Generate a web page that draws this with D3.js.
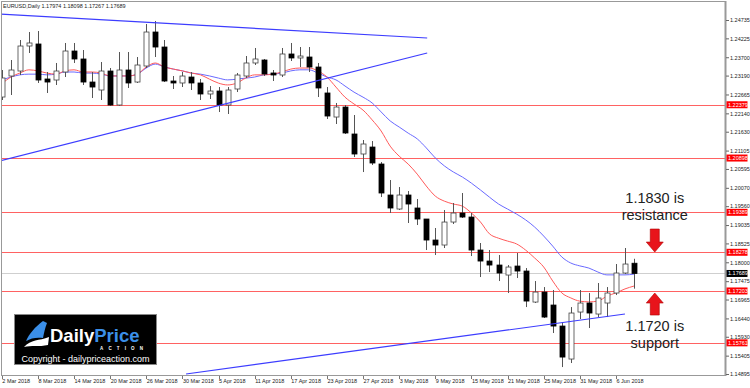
<!DOCTYPE html>
<html>
<head>
<meta charset="utf-8">
<script src="https://cdn.jsdelivr.net/npm/d3@7"></script>
<style>
  body { margin: 0; background: #fff; }
  svg { display: block; }
</style>
</head>
<body>
<svg id="chart" width="750" height="388"></svg>
<script>
/* trading days on the chart */
const dates = [
  "2018-03-02","2018-03-05","2018-03-06","2018-03-07","2018-03-08","2018-03-09","2018-03-12","2018-03-13","2018-03-14","2018-03-15",
  "2018-03-16","2018-03-19","2018-03-20","2018-03-21","2018-03-22","2018-03-23","2018-03-26","2018-03-27","2018-03-28","2018-03-29",
  "2018-03-30","2018-04-02","2018-04-03","2018-04-04","2018-04-05","2018-04-06","2018-04-09","2018-04-10","2018-04-11","2018-04-12",
  "2018-04-13","2018-04-16","2018-04-17","2018-04-18","2018-04-19","2018-04-20","2018-04-23","2018-04-24","2018-04-25","2018-04-26",
  "2018-04-27","2018-04-30","2018-05-01","2018-05-02","2018-05-03","2018-05-04","2018-05-07","2018-05-08","2018-05-09","2018-05-10",
  "2018-05-11","2018-05-14","2018-05-15","2018-05-16","2018-05-17","2018-05-18","2018-05-21","2018-05-22","2018-05-23","2018-05-24",
  "2018-05-25","2018-05-28","2018-05-29","2018-05-30","2018-05-31","2018-06-01","2018-06-04","2018-06-05","2018-06-06","2018-06-07",
  "2018-06-08"
];

const open = [
  1.22594,1.23178,1.23317,1.24012,1.24068,1.23095,1.23067,1.23289,1.23873,1.23651,
  1.23011,1.22789,1.23317,1.22372,1.23345,1.23011,1.23456,1.24401,1.23984,1.23039,
  1.22984,1.23150,1.22984,1.22678,1.22761,1.22372,1.22817,1.23178,1.23540,1.23623,
  1.23262,1.23206,1.23790,1.23679,1.23706,1.23428,1.22706,1.22038,1.22316,1.21566,
  1.21010,1.21204,1.20732,1.19870,1.19481,1.19870,1.19509,1.19203,1.18619,1.18480,
  1.19119,1.19370,1.19258,1.18341,1.18035,1.17924,1.17646,1.17896,1.17757,1.16895,
  1.17173,1.16812,1.16228,1.15311,1.16617,1.16868,1.16562,1.16868,1.17146,1.17702,
  1.17974
];
const high = [
  1.23345,1.23623,1.24179,1.24401,1.24429,1.23289,1.23540,1.24096,1.24096,1.23901,
  1.23289,1.23567,1.23401,1.23845,1.23845,1.23706,1.24624,1.24707,1.24179,1.23178,
  1.23289,1.23289,1.23095,1.22900,1.22872,1.22872,1.23262,1.23734,1.23957,1.23651,
  1.23345,1.23957,1.24096,1.23984,1.23984,1.23540,1.22872,1.22428,1.22372,1.22094,
  1.21399,1.21371,1.20787,1.20287,1.20092,1.19981,1.19759,1.19203,1.18953,1.19453,
  1.19648,1.19926,1.19370,1.18536,1.18341,1.18202,1.17924,1.18258,1.17841,1.17479,
  1.17312,1.17229,1.16339,1.16756,1.17229,1.17146,1.17424,1.17312,1.17952,1.18397,
  1.18098
];
const low = [
  1.22511,1.22650,1.23206,1.23818,1.22984,1.22706,1.22928,1.23150,1.23540,1.22928,
  1.22567,1.22511,1.22350,1.22350,1.22845,1.22984,1.23401,1.23706,1.23011,1.22817,
  1.22872,1.22789,1.22511,1.22539,1.22177,1.22122,1.22733,1.23123,1.23484,1.23178,
  1.23039,1.23150,1.23595,1.23428,1.23289,1.22594,1.21983,1.21844,1.21566,1.20926,
  1.20509,1.20704,1.19814,1.19370,1.19453,1.19092,1.19036,1.18341,1.18202,1.18397,
  1.19064,1.19231,1.18174,1.17590,1.17729,1.17479,1.17146,1.17563,1.16756,1.16868,
  1.16451,1.16034,1.15088,1.15200,1.16423,1.16173,1.16478,1.16478,1.17090,1.17674,
  1.17267
];
const close = [
  1.23123,1.23345,1.24012,1.24096,1.23067,1.23011,1.23317,1.23873,1.23651,1.23011,
  1.22872,1.23317,1.22372,1.23345,1.22984,1.23484,1.24401,1.23984,1.23039,1.22984,
  1.23178,1.22984,1.22678,1.22761,1.22372,1.22789,1.23206,1.23540,1.23651,1.23234,
  1.23206,1.23790,1.23679,1.23734,1.23428,1.22845,1.22066,1.22316,1.21594,1.21010,
  1.21288,1.20760,1.19926,1.19509,1.19870,1.19620,1.19203,1.18619,1.18480,1.19119,
  1.19370,1.19258,1.18341,1.18035,1.17924,1.17702,1.17868,1.17757,1.16923,1.17173,
  1.16478,1.16228,1.15366,1.16590,1.16868,1.16590,1.17007,1.17146,1.17702,1.17952,
  1.17689
];

/* moving averages (red = fast, blue = slow) */
const maFast = [
  1.2296,1.2315,1.2326,1.2335,1.2332,1.2326,1.2323,1.2332,1.2335,1.2329,
  1.2329,1.2326,1.2318,1.2318,1.2318,1.2323,1.2343,1.2354,1.2343,1.2337,
  1.2332,1.2326,1.2321,1.2309,1.2298,1.2293,1.2298,1.2312,1.2321,1.2321,
  1.2323,1.2329,1.2337,1.2340,1.2340,1.2332,1.2315,1.2287,1.2259,1.2240,
  1.2223,1.2196,1.2165,1.2123,1.2095,1.2073,1.2045,1.2012,1.1984,1.1970,
  1.1962,1.1956,1.1937,1.1912,1.1879,1.1867,1.1859,1.1851,1.1834,1.1812,
  1.1787,1.1748,1.1715,1.1701,1.1692,1.1690,1.1692,1.1706,1.1715,1.1726,
  1.1734
];
const maSlow = [
  1.2307,1.2315,1.2321,1.2323,1.2323,1.2321,1.2323,1.2329,1.2329,1.2326,
  1.2326,1.2323,1.2318,1.2318,1.2318,1.2323,1.2340,1.2351,1.2343,1.2337,
  1.2332,1.2326,1.2323,1.2318,1.2312,1.2307,1.2309,1.2312,1.2315,1.2321,
  1.2323,1.2326,1.2332,1.2335,1.2335,1.2326,1.2315,1.2307,1.2290,1.2273,
  1.2259,1.2243,1.2218,1.2193,1.2176,1.2159,1.2143,1.2118,1.2090,1.2068,
  1.2051,1.2037,1.2020,1.2001,1.1981,1.1962,1.1948,1.1934,1.1918,1.1898,
  1.1873,1.1845,1.1815,1.1798,1.1790,1.1784,1.1773,1.1765,1.1765,1.1765,
  1.1767
];

const yTicks = [1.24735,1.24225,1.23700,1.23190,1.22665,1.22140,1.21630,1.21105,1.20595,1.20070,
                1.19560,1.19035,1.18525,1.18000,1.17475,1.16965,1.16440,1.15930,1.15405,1.14895];
const levels = [1.22379, 1.20898, 1.19389, 1.18278, 1.17203, 1.15761];
const lastPrice = 1.17689;

/* trend lines: [bar index, price] end points */
const trendLines = [
  [[-0.3, 1.24902], [47.1, 1.24235]],
  [[-0.3, 1.20816], [47.1, 1.23818]],
  [[20.4, 1.14895], [69.0, 1.16563]]
];

const svg = d3.select("#chart");
const W = 750, H = 388;
const plotRight = 725, plotBottom = 375;
const small = "Liberation Sans, Arial, sans-serif";

const x = d3.scaleLinear().domain([0, dates.length - 1]).range([1.8, 634]);
const y = d3.scaleLinear().domain([1.14895, 1.24735]).range([374, 20]);

const parse = d3.timeParse("%Y-%m-%d");
const fmt = d3.timeFormat("%-d %b %Y");

svg.append("rect").attr("width", W).attr("height", H).attr("fill", "#fff");

svg.append("defs").append("clipPath").attr("id", "plotClip")
  .append("rect").attr("x", 1).attr("y", 1).attr("width", plotRight - 1).attr("height", plotBottom - 1);

const plot = svg.append("g").attr("clip-path", "url(#plotClip)");

/* horizontal levels */
plot.selectAll(".level").data(levels).enter().append("line")
  .attr("class", "level")
  .attr("x1", 0).attr("x2", plotRight)
  .attr("y1", d => Math.round(y(d)) + 0.5).attr("y2", d => Math.round(y(d)) + 0.5)
  .attr("stroke", "#ff6262").attr("stroke-width", 1);

plot.append("line")
  .attr("x1", 0).attr("x2", plotRight)
  .attr("y1", Math.round(y(lastPrice)) + 0.5).attr("y2", Math.round(y(lastPrice)) + 0.5)
  .attr("stroke", "#cfcfcf").attr("stroke-width", 1);

/* moving averages */
const line = d3.line().x((d, i) => x(i)).y(d => y(d)).curve(d3.curveMonotoneX);
plot.append("path").datum(maSlow).attr("d", line)
  .attr("fill", "none").attr("stroke", "#6a6aff").attr("stroke-width", 1);
plot.append("path").datum(maFast).attr("d", line)
  .attr("fill", "none").attr("stroke", "#ff5a5a").attr("stroke-width", 1);

/* candles */
const bars = dates.map((d, i) => ({ i, o: open[i], h: high[i], l: low[i], c: close[i] }));
const bodyW = 5;
const candle = plot.selectAll(".candle").data(bars).enter().append("g").attr("class", "candle");
candle.append("line")
  .attr("x1", d => Math.round(x(d.i)) + 0.5).attr("x2", d => Math.round(x(d.i)) + 0.5)
  .attr("y1", d => y(d.h)).attr("y2", d => y(d.l))
  .attr("stroke", "#555").attr("stroke-width", 1);
candle.append("rect")
  .attr("x", d => Math.round(x(d.i)) + 0.5 - bodyW / 2)
  .attr("y", d => y(Math.max(d.o, d.c)))
  .attr("width", bodyW)
  .attr("height", d => Math.max(1, Math.abs(y(d.o) - y(d.c))))
  .attr("fill", d => d.c >= d.o ? "#fff" : "#000")
  .attr("stroke", d => d.c >= d.o ? "#444" : "#000")
  .attr("stroke-width", 0.8);

/* trend lines */
plot.selectAll(".trend").data(trendLines).enter().append("line")
  .attr("class", "trend")
  .attr("x1", d => x(d[0][0])).attr("y1", d => y(d[0][1]))
  .attr("x2", d => x(d[1][0])).attr("y2", d => y(d[1][1]))
  .attr("stroke", "#3d3dff").attr("stroke-width", 1.2);

/* frame */
svg.append("line").attr("x1", 1.5).attr("x2", 1.5).attr("y1", 1).attr("y2", plotBottom).attr("stroke", "#999");
svg.append("line").attr("x1", 1).attr("x2", plotRight).attr("y1", 1.5).attr("y2", 1.5).attr("stroke", "#999");
svg.append("line").attr("x1", 1).attr("x2", plotRight).attr("y1", plotBottom + 0.5).attr("y2", plotBottom + 0.5).attr("stroke", "#999");
svg.append("line").attr("x1", plotRight + 0.5).attr("x2", plotRight + 0.5).attr("y1", 1).attr("y2", plotBottom + 1)
  .attr("stroke", "#999").attr("stroke-width", 2);

/* right price axis */
const yAxis = d3.axisRight(y).tickValues(yTicks).tickSize(3).tickPadding(1)
  .tickFormat(d3.format(".5f"));
svg.append("g")
  .attr("class", "yAxis")
  .attr("transform", "translate(" + (plotRight + 1) + ",0)")
  .call(yAxis)
  .call(g => g.select(".domain").remove())
  .call(g => g.selectAll("line").attr("stroke", "#666"))
  .call(g => g.selectAll("text").attr("font-family", small).attr("font-size", "5.5px").attr("fill", "#222"));

/* price tags */
const tags = levels.map(v => ({ v, bg: "#ff0000" })).concat([{ v: lastPrice, bg: "#000" }]);
const tag = svg.selectAll(".tag").data(tags).enter().append("g").attr("class", "tag");
tag.append("rect")
  .attr("x", plotRight + 1.5).attr("y", d => y(d.v) - 3.5)
  .attr("width", 21).attr("height", 7).attr("fill", d => d.bg);
tag.append("text")
  .attr("x", plotRight + 3).attr("y", d => y(d.v) + 2)
  .attr("font-family", small).attr("font-size", "5.5px").attr("fill", "#fff")
  .text(d => d3.format(".5f")(d.v));

/* date axis */
const dateTicks = d3.range(0, dates.length, 4);
const xg = svg.append("g").attr("class", "xAxis");
xg.selectAll("line").data(dateTicks).enter().append("line")
  .attr("x1", d => Math.round(x(d)) + 0.5).attr("x2", d => Math.round(x(d)) + 0.5)
  .attr("y1", plotBottom + 1).attr("y2", plotBottom + 4)
  .attr("stroke", "#777");
xg.selectAll("text").data(dateTicks).enter().append("text")
  .attr("x", d => x(d) + 0.5).attr("y", 383)
  .attr("font-family", small).attr("font-size", "5.5px").attr("fill", "#222")
  .text(d => fmt(parse(dates[d])));

/* header */
svg.append("text")
  .attr("x", 3).attr("y", 8)
  .attr("font-family", small).attr("font-size", "5.5px").attr("fill", "#222")
  .text("EURUSD,Daily  " + [open[70], high[70], low[70], close[70]].map(d3.format(".5f")).join(" "));

/* annotations */
const noteX = x(72.3);
function arrow(xc, yTop, yBot, dir) {
  const hw = 4.5, head = 8.5, hh = 10;
  let p;
  if (dir === "down") {
    p = [[xc - hw, yTop], [xc + hw, yTop], [xc + hw, yBot - hh], [xc + head, yBot - hh], [xc, yBot],
         [xc - head, yBot - hh], [xc - hw, yBot - hh]];
  } else {
    p = [[xc - hw, yBot], [xc + hw, yBot], [xc + hw, yTop + hh], [xc + head, yTop + hh], [xc, yTop],
         [xc - head, yTop + hh], [xc - hw, yTop + hh]];
  }
  svg.append("path").attr("d", "M" + p.join("L") + "Z")
    .attr("fill", "#e8141b").attr("stroke", "#b00000").attr("stroke-width", 0.6);
}
arrow(noteX, y(1.18925), y(1.18285), "down");
arrow(noteX, y(1.17146), y(1.16534), "up");

const notes = [
  { price: 1.19640, text: "1.1830 is" },
  { price: 1.19170, text: "resistance" },
  { price: 1.16090, text: "1.1720 is" },
  { price: 1.15620, text: "support" }
];
svg.selectAll(".note").data(notes).enter().append("text")
  .attr("class", "note")
  .attr("x", noteX).attr("y", d => y(d.price))
  .attr("text-anchor", "middle")
  .attr("font-family", small).attr("font-size", "14.5px").attr("fill", "#222")
  .text(d => d.text);

/* logo */
const logo = svg.append("g").attr("class", "logo");
logo.append("rect").attr("x", 14.5).attr("y", 314.5).attr("width", 142).attr("height", 50)
  .attr("fill", "#000").attr("stroke", "#888").attr("stroke-width", 1);
logo.append("path")
  .attr("d", "M26,341 C29,334 35,327 43,321 L47,323 C45,328 44,333 43,338 C37,337 31,338 26,341 Z")
  .attr("fill", "#3b8fe8");
logo.append("path")
  .attr("d", "M24,347 C31,339 39,341 49,337 L48,345 C39,347 31,345 24,347 Z")
  .attr("fill", "#fff");
const brand = logo.append("text").attr("x", 50).attr("y", 341.5)
  .attr("font-family", small).attr("font-weight", "bold").attr("font-size", "18.5px");
brand.append("tspan").attr("fill", "#fff").text("Daily");
brand.append("tspan").attr("fill", "#3b8fe8").text("Price");
logo.append("text").attr("x", 100).attr("y", 349.5)
  .attr("font-family", small).attr("font-weight", "bold").attr("font-size", "4.5px").attr("fill", "#fff")
  .attr("textLength", 43).attr("lengthAdjust", "spacing")
  .text("ACTION");
logo.append("text").attr("x", 85.5).attr("y", 361.5)
  .attr("text-anchor", "middle")
  .attr("font-family", small).attr("font-size", "9px").attr("fill", "#fff")
  .text("Copyright - dailypriceaction.com");
</script>
</body>
</html>
